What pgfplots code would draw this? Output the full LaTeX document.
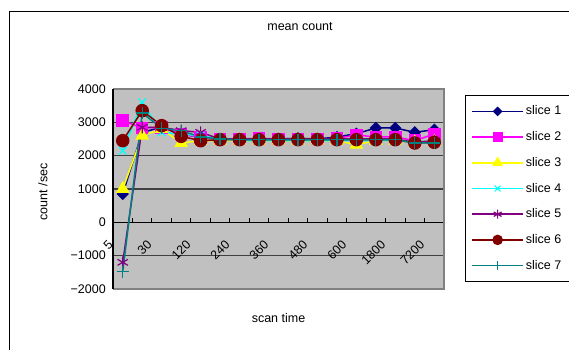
\documentclass[border=0pt]{standalone}
\usepackage{fontspec}
\setmainfont{Liberation Sans}
\usepackage{pgfplots}
\pgfplotsset{compat=1.18}
\definecolor{silverbg}{HTML}{C0C0C0}
\definecolor{s1}{HTML}{000080}
\definecolor{s2}{HTML}{FF00FF}
\definecolor{s3}{HTML}{FFFF00}
\definecolor{s4}{HTML}{00FFFF}
\definecolor{s5}{HTML}{800080}
\definecolor{s6}{HTML}{800000}
\definecolor{s7}{HTML}{008080}
\definecolor{gridc}{HTML}{404040}
\definecolor{framec}{HTML}{808080}
\begin{document}
\begin{tikzpicture}[x=1pt,y=1pt]
\path[use as bounding box] (0,0) rectangle (569,350);
\draw[line width=1.2pt] (9.5,0) -- (9.5,338.5) -- (569,338.5);
\begin{axis}[
  at={(113pt,61pt)}, anchor=south west,
  scale only axis, width=331pt, height=200pt,
  xmin=-0.5, xmax=16.5, ymin=-2000, ymax=4000,
  axis x line*=middle, axis y line*=left,
  axis background/.style={fill=silverbg},
  clip=false,
  font=\fontsize{12.5}{14}\selectfont,
  xtick={0,2,...,16},
  xticklabels={5,30,120,240,360,480,600,1800,7200},
  x tick style={draw=none},
  xticklabel style={xshift=-12pt, yshift=-20pt, rotate=45, anchor=east, inner sep=0pt},
  ytick={-2000,-1000,...,4000},
  yticklabels={−2000,−1000,0,1000,2000,3000,4000},
  y tick style={draw=none},
  yticklabel style={anchor=east, inner sep=0pt, xshift=-7pt},
  ymajorgrids, grid style={gridc, line width=1.2pt},
  y axis line style={black, line width=1.2pt},
  x axis line style={black, line width=1pt, -},
  title={mean count},
  title style={at={(rel axis cs:0.565,1.28)}, anchor=center},
  xlabel={scan time},
  xlabel style={at={(rel axis cs:0.5,-0.145)}, anchor=center},
  ylabel={count /sec},
  ylabel style={at={(rel axis cs:-0.2115,0.485)}, anchor=center},
  every axis plot/.append style={line width=1.5pt, mark options={solid, line width=1.2pt}},
  legend style={at={(1.0634,0.97)}, anchor=north west, draw=black, line width=0.8pt,
    fill=white, inner xsep=6pt, inner ysep=8.5pt, row sep=10.7pt,
    nodes={inner sep=2pt, text height=9pt, text depth=2pt, font=\fontsize{12.5}{14}\selectfont},
    legend cell align=left},
  legend image code/.code={\draw[mark repeat=2,mark phase=2, every mark/.append style={scale=0.75}] plot coordinates {(0pt,0pt) (25.5pt,0pt) (51pt,0pt)};},
]
\pgfplotsinvokeforeach{-0.5,0.5,...,16.5}{\draw[black, line width=0.9pt] (axis cs:#1,0) -- ++(0pt,4.5pt);}
\addplot[s1, mark=square*, mark size=3.6pt, mark options={rotate=45, fill=s1}] coordinates {
(0,850)(1,2700)(2,2850)(3,2650)(4,2550)(5,2500)(6,2500)(7,2500)(8,2500)(9,2520)(10,2500)(11,2560)(12,2660)(13,2830)(14,2830)(15,2700)(16,2780)};
\addlegendentry{slice 1}
\addplot[s2, mark=square*, mark size=5.5pt, mark options={fill=s2}] coordinates {
(0,3050)(1,2830)(2,2850)(3,2650)(4,2550)(5,2500)(6,2500)(7,2520)(8,2500)(9,2500)(10,2500)(11,2520)(12,2620)(13,2560)(14,2560)(15,2450)(16,2650)};
\addlegendentry{slice 2}
\addplot[s3, mark=triangle*, mark size=6.5pt, mark options={fill=s3}] coordinates {
(0,1000)(1,2600)(2,2800)(3,2380)(4,2450)(5,2450)(6,2450)(7,2450)(8,2450)(9,2450)(10,2450)(11,2450)(12,2330)(13,2450)(14,2450)(15,2400)(16,2420)};
\addlegendentry{slice 3}
\addplot[s4, mark=x, mark size=5.5pt] coordinates {
(0,2150)(1,3600)(2,2700)(3,2650)(4,2600)(5,2500)(6,2450)(7,2450)(8,2450)(9,2450)(10,2450)(11,2450)(12,2450)(13,2450)(14,2450)(15,2420)(16,2420)};
\addlegendentry{slice 4}
\addplot[s5, mark=asterisk, mark size=6pt] coordinates {
(0,-1200)(1,2850)(2,2850)(3,2750)(4,2700)(5,2500)(6,2500)(7,2500)(8,2500)(9,2500)(10,2500)(11,2500)(12,2500)(13,2500)(14,2500)(15,2400)(16,2450)};
\addlegendentry{slice 5}
\addplot[s6, mark=*, mark size=6pt, mark options={fill=s6}] coordinates {
(0,2450)(1,3350)(2,2900)(3,2580)(4,2450)(5,2480)(6,2480)(7,2480)(8,2480)(9,2480)(10,2480)(11,2480)(12,2480)(13,2480)(14,2480)(15,2380)(16,2400)};
\addlegendentry{slice 6}
\addplot[s7, mark=+, mark size=6pt] coordinates {
(0,-1480)(1,3280)(2,2820)(3,2750)(4,2560)(5,2500)(6,2480)(7,2480)(8,2480)(9,2480)(10,2480)(11,2480)(12,2480)(13,2480)(14,2480)(15,2380)(16,2380)};
\addlegendentry{slice 7}
\draw[framec, line width=1.6pt] (rel axis cs:0,0) -- (rel axis cs:1,0) -- (rel axis cs:1,1) -- (rel axis cs:0,1);
\draw[black, line width=1.2pt] (rel axis cs:0,0) -- (rel axis cs:0,1);
\end{axis}
\end{tikzpicture}
\end{document}
